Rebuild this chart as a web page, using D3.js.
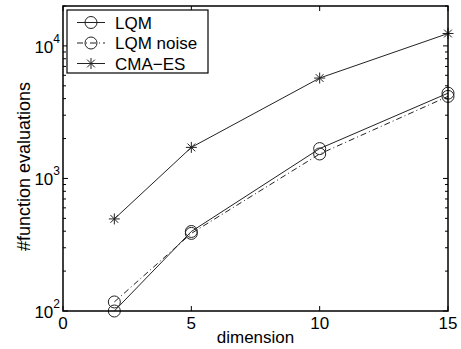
<!DOCTYPE html>
<html>
<head>
<meta charset="utf-8">
<script src="https://cdn.jsdelivr.net/npm/d3@7"></script>
<style>
  body { margin: 0; background: #fff; }
  text { font-family: "Liberation Sans", Arial, sans-serif; fill: #000; }
</style>
</head>
<body>
<div id="chart"></div>
<script>
// data
var dims = [2, 5, 10, 15];
var lqm = [100, 398, 1680, 4400];
var lqmNoise = [117, 385, 1530, 4160];
var cmaes = [495, 1715, 5720, 12400];
var xTicks = [0, 5, 10, 15];
var yTicks = [100, 1000, 10000];

var pwidth = 461, pheight = 349;
var margin = {top: 6, right: 13, bottom: 38, left: 63},
    width = pwidth - margin.left - margin.right,
    height = pheight - margin.top - margin.bottom;

var xScale = d3.scaleLinear().domain([0, 15]).range([0, width]);
var yScale = d3.scaleLog().domain([100, 20000]).range([height, 0]);

var svg = d3.select("#chart").append("svg")
  .attr("width", pwidth)
  .attr("height", pheight)
  .append("g")
  .attr("transform", "translate(" + margin.left + "," + margin.top + ")");

// minor log ticks
var minor = [];
for (var e = 2; e <= 4; e++) {
  for (var m = 2; m <= 9; m++) {
    var v = m * Math.pow(10, e);
    if (v <= 20000) minor.push(v);
  }
}

var gx = svg.append("g");
minor.forEach(function(v) {
  gx.append("line").attr("x1", 0).attr("x2", 3).attr("y1", yScale(v)).attr("y2", yScale(v)).attr("stroke", "#000");
  gx.append("line").attr("x1", width).attr("x2", width - 3).attr("y1", yScale(v)).attr("y2", yScale(v)).attr("stroke", "#000");
});
yTicks.forEach(function(v) {
  gx.append("line").attr("x1", 0).attr("x2", 5).attr("y1", yScale(v)).attr("y2", yScale(v)).attr("stroke", "#000");
  gx.append("line").attr("x1", width).attr("x2", width - 5).attr("y1", yScale(v)).attr("y2", yScale(v)).attr("stroke", "#000");
});
xTicks.forEach(function(v) {
  gx.append("line").attr("x1", xScale(v)).attr("x2", xScale(v)).attr("y1", height).attr("y2", height - 5).attr("stroke", "#000");
  gx.append("line").attr("x1", xScale(v)).attr("x2", xScale(v)).attr("y1", 0).attr("y2", 5).attr("stroke", "#000");
});

// x tick labels
svg.selectAll(".xlab")
  .data(xTicks)
  .enter().append("text")
  .attr("x", function(d) { return xScale(d); })
  .attr("y", height + 18)
  .attr("text-anchor", "middle")
  .style("font-size", "17px")
  .text(function(d) { return d; });

// y tick labels 10^k
yTicks.forEach(function(v) {
  var t = svg.append("text")
    .attr("x", -3)
    .attr("y", yScale(v) + 7)
    .attr("text-anchor", "end")
    .style("font-size", "17px");
  t.append("tspan").text("10");
  t.append("tspan").attr("dy", -10).style("font-size", "12px").text(Math.round(Math.log10(v)));
});

svg.append("text")
  .attr("x", width / 2)
  .attr("y", height + 32)
  .attr("text-anchor", "middle")
  .style("font-size", "17px")
  .text("dimension");

svg.append("text")
  .attr("transform", "translate(-33," + (height / 2 + 8) + ") rotate(-90)")
  .attr("text-anchor", "middle")
  .style("font-size", "18px")
  .text("#function evaluations");

var line = d3.line()
  .x(function(d) { return xScale(d[0]); })
  .y(function(d) { return yScale(d[1]); });

var series = [
  {name: "LQM", values: lqm, dash: null, marker: "circle"},
  {name: "LQM noise", values: lqmNoise, dash: "6,3,1,3", marker: "circle"},
  {name: "CMA\u2212ES", values: cmaes, dash: null, marker: "star"}
];

function drawMarker(g, type, cx, cy) {
  if (type == "circle") {
    g.append("circle").attr("cx", cx).attr("cy", cy).attr("r", 6)
      .attr("fill", "none").attr("stroke", "#222").attr("stroke-width", 1);
  } else {
    var r = 5.5, k = r * Math.SQRT1_2;
    var p = "M" + (cx - r) + "," + cy + "h" + (2 * r) +
      "M" + cx + "," + (cy - r) + "v" + (2 * r) +
      "M" + (cx - k) + "," + (cy - k) + "l" + (2 * k) + "," + (2 * k) +
      "M" + (cx - k) + "," + (cy + k) + "l" + (2 * k) + "," + (-2 * k);
    g.append("path").attr("d", p).attr("stroke", "#222").attr("stroke-width", 1).attr("fill", "none");
  }
}

series.forEach(function(s) {
  var pts = dims.map(function(d, i) { return [d, s.values[i]]; });
  svg.append("path")
    .datum(pts)
    .attr("d", line)
    .attr("fill", "none")
    .attr("stroke", "#222")
    .attr("stroke-width", 1)
    .attr("stroke-dasharray", s.dash);
  pts.forEach(function(p) {
    drawMarker(svg, s.marker, xScale(p[0]), yScale(p[1]));
  });
});

// axes box
svg.append("rect")
  .attr("x", 0).attr("y", 0)
  .attr("width", width).attr("height", height)
  .attr("fill", "none").attr("stroke", "#000").attr("stroke-width", 1.5);

// legend
var lg = svg.append("g").attr("transform", "translate(4,4)");
lg.append("rect").attr("x", 0).attr("y", 0).attr("width", 141).attr("height", 63)
  .attr("fill", "#fff").attr("stroke", "#000").attr("stroke-width", 1.2);
series.forEach(function(s, i) {
  var yy = 12.5 + i * 20.5;
  lg.append("line").attr("x1", 10).attr("x2", 38).attr("y1", yy).attr("y2", yy)
    .attr("stroke", "#222").attr("stroke-width", 1).attr("stroke-dasharray", s.dash);
  drawMarker(lg, s.marker, 24, yy);
  lg.append("text").attr("x", 48).attr("y", yy + 6)
    .style("font-size", "17px").text(s.name);
});
</script>
</body>
</html>
